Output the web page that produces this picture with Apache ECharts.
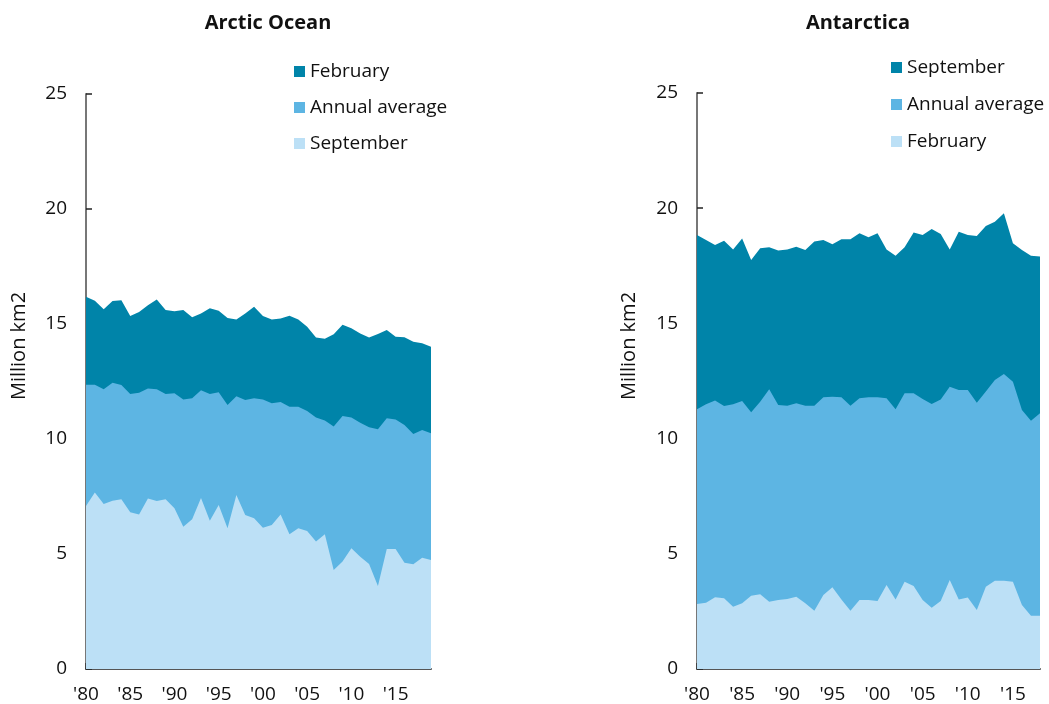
<!DOCTYPE html>
<html>
<head>
<meta charset="utf-8">
<script src="https://cdn.jsdelivr.net/npm/echarts@6/dist/echarts.min.js"></script>
<style>
html,body{margin:0;padding:0;background:#fff;}
#c{width:1049px;height:704px;}
</style>
</head>
<body>
<div id="c"></div>
<script>
const arcticYears = [1980,1981,1982,1983,1984,1985,1986,1987,1988,1989,1990,1991,1992,1993,1994,1995,1996,1997,1998,1999,2000,2001,2002,2003,2004,2005,2006,2007,2008,2009,2010,2011,2012,2013,2014,2015,2016,2017,2018,2019];
const arcticFeb = [16.19,16.01,15.64,16.0,16.03,15.35,15.52,15.81,16.07,15.61,15.55,15.61,15.29,15.46,15.68,15.58,15.26,15.2,15.46,15.75,15.35,15.2,15.24,15.36,15.2,14.88,14.41,14.36,14.55,14.97,14.81,14.59,14.41,14.57,14.74,14.45,14.42,14.23,14.16,14.01];
const arcticAvg = [12.36,12.36,12.16,12.45,12.35,11.96,12.01,12.2,12.16,11.96,11.99,11.72,11.77,12.12,11.96,12.03,11.48,11.86,11.7,11.77,11.72,11.55,11.61,11.4,11.4,11.22,10.94,10.8,10.54,11.0,10.94,10.71,10.51,10.42,10.9,10.85,10.61,10.22,10.39,10.25];
const arcticSep = [7.09,7.67,7.17,7.32,7.38,6.81,6.72,7.41,7.3,7.38,6.99,6.19,6.51,7.43,6.45,7.13,6.12,7.57,6.70,6.55,6.14,6.26,6.72,5.86,6.12,6.0,5.54,5.86,4.30,4.67,5.25,4.88,4.57,3.61,5.22,5.22,4.62,4.55,4.84,4.74];

const antYears = [1980,1981,1982,1983,1984,1985,1986,1987,1988,1989,1990,1991,1992,1993,1994,1995,1996,1997,1998,1999,2000,2001,2002,2003,2004,2005,2006,2007,2008,2009,2010,2011,2012,2013,2014,2015,2016,2017,2018];
const antSep = [18.84,18.62,18.4,18.59,18.21,18.69,17.75,18.26,18.3,18.16,18.21,18.33,18.19,18.55,18.62,18.43,18.65,18.65,18.91,18.74,18.91,18.21,17.94,18.3,18.94,18.84,19.1,18.88,18.21,18.98,18.84,18.79,19.23,19.41,19.78,18.48,18.19,17.94,17.9];
const antAvg = [11.27,11.49,11.65,11.42,11.49,11.63,11.14,11.6,12.14,11.46,11.43,11.53,11.43,11.43,11.79,11.82,11.79,11.43,11.75,11.79,11.79,11.75,11.27,11.97,11.97,11.72,11.5,11.7,12.25,12.11,12.11,11.56,12.04,12.54,12.8,12.47,11.24,10.78,11.1];
const antFeb = [2.82,2.88,3.11,3.07,2.7,2.85,3.18,3.24,2.92,2.99,3.04,3.14,2.85,2.53,3.21,3.55,3.02,2.53,2.99,2.99,2.95,3.65,3.02,3.79,3.6,2.99,2.66,2.95,3.86,3.02,3.1,2.56,3.57,3.83,3.83,3.79,2.78,2.31,2.31];

const titles = ['Arctic Ocean', 'Antarctica'];
const yAxisName = 'Million km2';
const arcticLegend = ['February', 'Annual average', 'September'];
const antLegend = ['September', 'Annual average', 'February'];

const DARK = '#0084a9', MID = '#5db5e3', LIGHT = '#bce0f6';
const FONT = '"Open Sans", "Noto Sans", sans-serif';

const chart = echarts.init(document.getElementById('c'), null, {renderer: 'canvas'});

function xAxis(idx, years) {
  return {
    type: 'category', gridIndex: idx, data: years, boundaryGap: false,
    axisLine: {lineStyle: {color: '#555', width: 2}},
    axisTick: {inside: true, length: 6, interval: 4, lineStyle: {color: '#333', width: 1.5}},
    axisLabel: {interval: 4, margin: 16, color: '#111', fontSize: 19, fontFamily: FONT,
      formatter: v => "'" + String(v).slice(2)},
    splitLine: {show: false}
  };
}
function yAxis(idx) {
  return {
    type: 'value', gridIndex: idx, min: 0, max: 25, interval: 5,
    axisLine: {show: true, lineStyle: {color: '#777', width: 2}},
    axisTick: {show: true, inside: true, length: 6, lineStyle: {color: '#222', width: 1.5}},
    axisLabel: {margin: 19, color: '#111', fontSize: 19, fontFamily: FONT},
    splitLine: {show: false}
  };
}
function area(name, idx, data, color) {
  return {
    name: name, type: 'line', xAxisIndex: idx, yAxisIndex: idx, data: data,
    symbol: 'none', lineStyle: {width: 0}, areaStyle: {color: color, opacity: 1},
    itemStyle: {color: color}, silent: true
  };
}
function legend(top, left, gap, names) {
  return {
    orient: 'vertical', top: top, left: left, itemWidth: 11, itemHeight: 11, itemGap: gap,
    icon: 'rect', selectedMode: false, padding: 0,
    textStyle: {fontSize: 19, color: '#111', fontFamily: FONT},
    data: names, formatter: n => n.split('|')[1]
  };
}

const option = {
  animation: false,
  backgroundColor: '#fff',
  grid: [
    {left: 86, top: 94, width: 345, height: 575},
    {left: 697, top: 93, width: 343, height: 576}
  ],
  xAxis: [xAxis(0, arcticYears), xAxis(1, antYears)],
  yAxis: [yAxis(0), yAxis(1)],
  legend: [
    legend(62, 294, 17, arcticLegend.map(n => 'A|' + n)),
    legend(58, 891, 18, antLegend.map(n => 'S|' + n))
  ],
  series: [
    area('A|February', 0, arcticFeb, DARK),
    area('A|Annual average', 0, arcticAvg, MID),
    area('A|September', 0, arcticSep, LIGHT),
    area('S|September', 1, antSep, DARK),
    area('S|Annual average', 1, antAvg, MID),
    area('S|February', 1, antFeb, LIGHT)
  ],
  graphic: [
    {type: 'text', x: 268, y: 23, style: {text: titles[0], align: 'center', verticalAlign: 'middle', font: 'bold 20px ' + FONT, fill: '#111'}},
    {type: 'text', x: 858, y: 23, style: {text: titles[1], align: 'center', verticalAlign: 'middle', font: 'bold 20px ' + FONT, fill: '#111'}},
    {type: 'text', x: 19, y: 346, rotation: Math.PI / 2, style: {text: yAxisName, align: 'center', verticalAlign: 'middle', font: '20px ' + FONT, fill: '#111'}},
    {type: 'text', x: 629, y: 346, rotation: Math.PI / 2, style: {text: yAxisName, align: 'center', verticalAlign: 'middle', font: '20px ' + FONT, fill: '#111'}}
  ]
};
chart.setOption(option);
</script>
</body>
</html>
